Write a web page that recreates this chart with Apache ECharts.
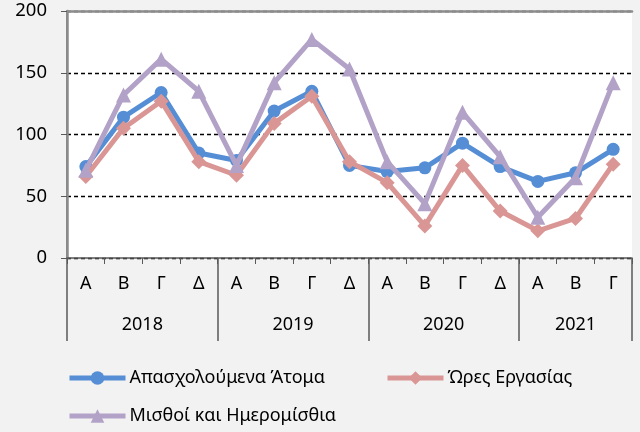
<!DOCTYPE html>
<html>
<head>
<meta charset="utf-8">
<script src="https://cdn.jsdelivr.net/npm/echarts@6/dist/echarts.min.js"></script>
<style>html,body{margin:0;padding:0;background:#f2f2f2}#c{width:640px;height:432px}</style>
</head>
<body>
<div id="c"></div>
<script>
var quarters = ['Α','Β','Γ','Δ','Α','Β','Γ','Δ','Α','Β','Γ','Δ','Α','Β','Γ'];
var years = ['2018','2019','2020','2021'];
var yearSpans = [4,4,4,3];
var seriesNames = ['Απασχολούμενα Άτομα','Ώρες Εργασίας','Μισθοί και Ημερομίσθια'];
var employed = [74,114,134,85,79,119,135,75,70,73,93,74,62,69,88];
var hours = [66,105,127,78,67,109,131,78,61,26,75,38,22,32,76];
var wages = [71,132,161,135,75,142,177,153,78,44,118,82,33,65,142];
var yTicks = [0,50,100,150,200];

var bounds = [0], centers = [], acc = 0;
yearSpans.forEach(function(s){ centers.push(acc + s/2); acc += s; bounds.push(acc); });

var FONT = 'Noto Sans';
var colors = ['#558ed5','#d99694','#b3a2c7'];
var symbols = ['circle','diamond','triangle'];
var data = [employed, hours, wages];

function legendItem(i, left, top) {
  return {data: [seriesNames[i]], left: left, top: top, itemWidth: 56, itemHeight: 17, padding: 0,
    itemStyle: {borderWidth: 0},
    lineStyle: {width: 5},
    textStyle: {fontSize: 18, color: '#000', fontFamily: FONT, padding: [0,0,0,-1]}};
}

var chart = echarts.init(document.getElementById('c'));
chart.setOption({
  backgroundColor: '#f2f2f2',
  animation: false,
  textStyle: {fontFamily: FONT},
  grid: {left: 67, right: 8, top: 11, bottom: 174, show: true, backgroundColor: '#ffffff', borderWidth: 0},
  xAxis: [
    {type: 'category', data: quarters, boundaryGap: true, position: 'bottom',
     axisLine: {lineStyle: {color: '#595959', width: 1.5}},
     axisTick: {show: true, length: 6, lineStyle: {color: '#595959'}},
     axisLabel: {margin: 17, fontSize: 18, color: '#000', fontFamily: FONT},
     splitLine: {show: false}},
    {type: 'value', min: 0, max: 15, position: 'bottom',
     axisLine: {show: false},
     axisTick: {show: true, customValues: bounds, length: 83, lineStyle: {color: '#595959', width: 1.5}},
     axisLabel: {show: true, customValues: centers, margin: 58, fontSize: 18, color: '#000', fontFamily: FONT,
       formatter: function(v){ var i = centers.indexOf(v); return i >= 0 ? years[i] : ''; }},
     splitLine: {show: false}},
    {type: 'value', min: 0, max: 15, position: 'top',
     axisLine: {show: true, lineStyle: {color: '#8c8c8c', width: 2.5}},
     axisTick: {show: false}, axisLabel: {show: false}, splitLine: {show: false}}
  ],
  yAxis: [
    {type: 'value', min: 0, max: 200, interval: 50,
     axisLine: {show: true, lineStyle: {color: '#595959', width: 1.5}},
     axisTick: {show: true, length: 6, lineStyle: {color: '#595959'}},
     axisLabel: {margin: 20, fontSize: 18.5, color: '#000', fontFamily: FONT,
       formatter: function(v){ return yTicks.indexOf(v) >= 0 ? String(v) : ''; }},
     splitLine: {show: true, lineStyle: {color: '#000', type: [4,3], width: 1.3}}},
    {type: 'value', min: 0, max: 200, position: 'right',
     axisLine: {show: true, lineStyle: {color: '#8c8c8c', width: 2.5}},
     axisTick: {show: false}, axisLabel: {show: false}, splitLine: {show: false}}
  ],
  legend: [
    legendItem(0, 67, 369),
    legendItem(1, 385, 369),
    legendItem(2, 67, 407)
  ],
  series: seriesNames.map(function(n, i){
    return {
      name: n, type: 'line', data: data[i], xAxisIndex: 0, yAxisIndex: 0,
      symbol: symbols[i], symbolSize: i === 0 ? 13 : 15,
      lineStyle: {color: colors[i], width: 5},
      itemStyle: {color: colors[i]},
      z: 10 + i
    };
  })
});
</script>
</body>
</html>
